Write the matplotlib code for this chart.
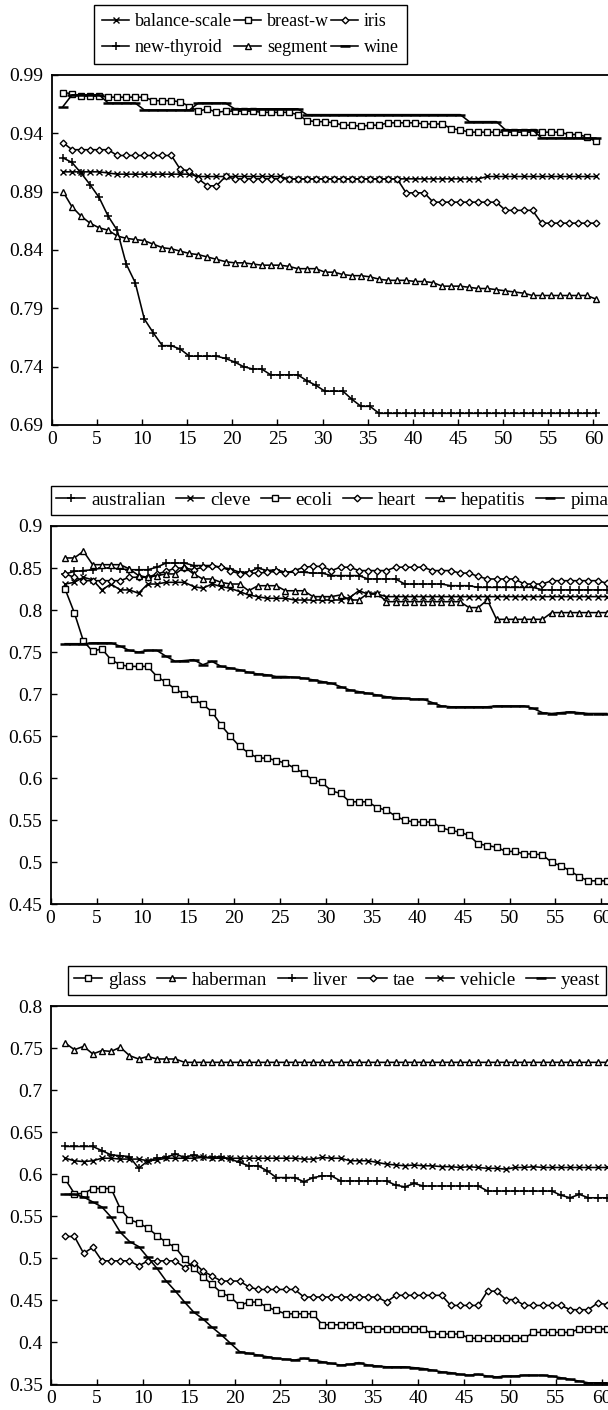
import numpy as np
import matplotlib.pyplot as plt

plt.rcParams['font.family'] = ['Liberation Serif', 'DejaVu Serif']

W, H = 608, 1410
steps = np.arange(1, 61)

# ---- panel 1 ----
balance_scale = [.907, .907, .907, .907, .907, .906, .905, .905, .905, .905,
                 .905, .905, .905, .905, .905, .903, .903, .903, .903, .903,
                 .903, .903, .903, .903, .903, .901, .901, .901, .901, .901,
                 .901, .901, .901, .901, .901, .901, .901, .901, .901, .901,
                 .901, .901, .901, .901, .901, .901, .901, .903, .903, .903,
                 .903, .903, .903, .903, .903, .903, .903, .903, .903, .903]
breast_w = [.975, .974, .972, .972, .972, .971, .971, .971, .971, .971,
            .968, .968, .968, .967, .963, .959, .961, .958, .959, .959,
            .959, .959, .958, .958, .958, .958, .956, .951, .950, .950,
            .949, .947, .947, .946, .947, .947, .949, .949, .949, .949,
            .948, .948, .948, .944, .943, .941, .941, .941, .941, .941,
            .941, .941, .941, .941, .941, .941, .939, .939, .937, .933]
iris = [.932, .926, .926, .926, .926, .926, .921, .921, .921, .921,
        .921, .921, .921, .909, .908, .901, .895, .895, .903, .901,
        .901, .901, .901, .901, .901, .901, .901, .901, .901, .901,
        .901, .901, .901, .901, .901, .901, .901, .901, .889, .889,
        .889, .881, .881, .881, .881, .881, .881, .881, .881, .874,
        .874, .874, .874, .863, .863, .863, .863, .863, .863, .863]
new_thyroid = [.919, .915, .906, .896, .885, .869, .857, .828, .812, .781,
               .769, .758, .758, .755, .749, .749, .749, .749, .747, .744,
               .740, .738, .738, .733, .733, .733, .733, .728, .724, .719,
               .719, .719, .712, .706, .706, .700, .700, .700, .700, .700,
               .700, .700, .700, .700, .700, .700, .700, .700, .700, .700,
               .700, .700, .700, .700, .700, .700, .700, .700, .700, .700]
segment = [.890, .877, .869, .863, .859, .857, .852, .850, .849, .848,
           .845, .842, .841, .839, .837, .836, .834, .832, .830, .829,
           .829, .828, .827, .827, .827, .826, .824, .824, .824, .821,
           .821, .819, .818, .818, .817, .815, .814, .814, .814, .813,
           .813, .812, .809, .809, .809, .808, .807, .807, .806, .805,
           .804, .803, .801, .801, .801, .801, .801, .801, .801, .798]
wine = [.963, .973, .973, .973, .973, .966, .966, .966, .966, .960,
        .960, .960, .960, .960, .960, .966, .966, .966, .966, .961,
        .961, .961, .961, .961, .961, .961, .961, .956, .956, .956,
        .956, .956, .956, .956, .956, .956, .956, .956, .956, .956,
        .956, .956, .956, .956, .956, .950, .950, .950, .950, .943,
        .943, .943, .943, .936, .936, .936, .936, .936, .936, .936]

# ---- panel 2 ----
australian = [.843, .846, .847, .848, .850, .850, .849, .848, .848, .848,
              .851, .856, .856, .856, .853, .853, .853, .851, .849, .845,
              .845, .850, .847, .848, .845, .845, .845, .844, .844, .841,
              .841, .841, .841, .837, .837, .837, .837, .831, .831, .831,
              .831, .831, .829, .829, .829, .827, .827, .827, .827, .827,
              .827, .827, .824, .824, .824, .824, .824, .824, .824, .824]
cleve = [.831, .833, .839, .836, .824, .831, .824, .824, .820, .831,
         .831, .833, .833, .833, .828, .826, .831, .828, .826, .822,
         .818, .816, .814, .814, .814, .812, .812, .812, .812, .812,
         .812, .815, .823, .819, .819, .816, .816, .816, .816, .816,
         .816, .816, .816, .816, .816, .816, .816, .816, .816, .816,
         .816, .816, .816, .816, .816, .816, .816, .816, .816, .816]
ecoli = [.825, .797, .763, .751, .754, .741, .735, .733, .733, .733,
         .721, .714, .706, .700, .694, .688, .679, .663, .650, .638,
         .630, .624, .624, .621, .618, .612, .606, .598, .595, .585,
         .582, .572, .572, .572, .565, .562, .555, .550, .548, .548,
         .548, .541, .538, .536, .532, .522, .520, .518, .513, .513,
         .510, .510, .509, .500, .496, .490, .483, .478, .478, .478]
heart = [.843, .839, .835, .835, .835, .835, .835, .839, .839, .839,
         .843, .846, .850, .850, .848, .851, .852, .851, .847, .843,
         .844, .844, .845, .846, .844, .847, .851, .852, .852, .847,
         .851, .851, .847, .847, .847, .847, .851, .851, .851, .851,
         .847, .847, .847, .844, .844, .840, .837, .837, .837, .837,
         .831, .831, .831, .835, .835, .835, .835, .835, .835, .832]
hepatitis = [.862, .862, .870, .854, .854, .854, .854, .849, .841, .839,
             .841, .843, .843, .851, .843, .837, .837, .833, .831, .831,
             .823, .829, .829, .829, .823, .823, .823, .816, .816, .816,
             .818, .812, .812, .820, .820, .810, .810, .810, .810, .810,
             .810, .810, .810, .810, .803, .803, .812, .789, .789, .789,
             .789, .789, .789, .797, .797, .797, .797, .797, .797, .797]
pima = [.760, .760, .760, .761, .761, .761, .757, .752, .750, .752,
        .752, .745, .739, .740, .741, .735, .739, .733, .731, .729,
        .726, .724, .723, .721, .721, .720, .719, .717, .715, .713,
        .709, .705, .703, .701, .699, .697, .696, .695, .694, .694,
        .690, .686, .685, .685, .685, .685, .685, .686, .686, .686,
        .686, .683, .678, .677, .678, .679, .678, .677, .677, .677]

# ---- panel 3 ----
glass = [.594, .577, .577, .583, .583, .583, .559, .546, .542, .536,
         .527, .519, .513, .499, .488, .478, .469, .459, .454, .444,
         .448, .448, .442, .438, .434, .434, .434, .434, .421, .421,
         .421, .421, .421, .416, .416, .416, .416, .416, .416, .416,
         .410, .410, .410, .410, .405, .405, .405, .405, .405, .405,
         .405, .412, .412, .412, .412, .412, .416, .416, .416, .416]
haberman = [.756, .748, .752, .743, .747, .746, .751, .741, .737, .740,
            .737, .737, .737, .733, .733, .733, .733, .733, .733, .733,
            .733, .733, .733, .733, .733, .733, .733, .733, .733, .733,
            .733, .733, .733, .733, .733, .733, .733, .733, .733, .733,
            .733, .733, .733, .733, .733, .733, .733, .733, .733, .733,
            .733, .733, .733, .733, .733, .733, .733, .733, .733, .733]
liver = [.633, .633, .633, .633, .628, .623, .622, .621, .607, .616,
         .619, .620, .624, .620, .623, .620, .620, .621, .618, .614,
         .610, .610, .604, .596, .596, .596, .591, .596, .598, .598,
         .592, .592, .592, .592, .592, .592, .587, .585, .589, .586,
         .586, .586, .586, .586, .586, .586, .580, .580, .580, .580,
         .580, .580, .580, .580, .575, .572, .576, .572, .572, .572]
tae = [.526, .526, .506, .513, .497, .497, .497, .497, .491, .497,
       .497, .497, .497, .489, .495, .485, .479, .473, .473, .473,
       .466, .463, .463, .463, .463, .463, .454, .454, .454, .454,
       .454, .454, .454, .454, .454, .448, .456, .456, .456, .456,
       .456, .456, .444, .444, .444, .444, .461, .461, .451, .451,
       .444, .444, .444, .444, .444, .439, .439, .439, .447, .445]
vehicle = [.619, .616, .615, .616, .619, .619, .618, .618, .618, .616,
           .617, .619, .619, .619, .619, .620, .619, .619, .619, .619,
           .619, .619, .619, .619, .619, .619, .618, .618, .620, .619,
           .619, .616, .616, .616, .614, .612, .611, .610, .611, .610,
           .610, .609, .609, .608, .609, .608, .607, .607, .606, .608,
           .608, .609, .608, .608, .608, .608, .608, .608, .608, .608]
yeast = [.576, .576, .573, .567, .561, .549, .531, .520, .514, .501,
         .488, .473, .461, .448, .436, .428, .418, .409, .399, .389,
         .387, .385, .383, .381, .380, .379, .381, .379, .377, .375,
         .373, .374, .376, .373, .372, .371, .371, .371, .370, .369,
         .367, .365, .364, .362, .361, .362, .360, .359, .360, .360,
         .361, .361, .361, .360, .358, .356, .354, .352, .352, .352]

# marker styles
X = dict(marker='x', ms=4.2, mew=1.0)
SQ = dict(marker='s', ms=4.2, mew=1.0, mfc='white')
DI = dict(marker='D', ms=3.4, mew=1.0, mfc='white')
PL = dict(marker='+', ms=6, mew=1.1)
TR = dict(marker='^', ms=4.4, mew=1.0, mfc='white')
DA = dict(marker='_', ms=7, mew=1.8)

panels = [
    dict(series=[('balance-scale', balance_scale, X), ('breast-w', breast_w, SQ),
                 ('iris', iris, DI), ('new-thyroid', new_thyroid, PL),
                 ('segment', segment, TR), ('wine', wine, DA)],
         rect=(51.7, 75, 620, 425), xscale=9.03, xoff=0.25,
         ylim=(0.69, 0.99), fmt='%.2f'),
    dict(series=[('australian', australian, PL), ('cleve', cleve, X),
                 ('ecoli', ecoli, SQ), ('heart', heart, DI),
                 ('hepatitis', hepatitis, TR), ('pima', pima, DA)],
         rect=(50.6, 526, 620, 904.4), xscale=9.18, xoff=0.58,
         ylim=(0.45, 0.9), fmt='%g'),
    dict(series=[('glass', glass, SQ), ('haberman', haberman, TR),
                 ('liver', liver, PL), ('tae', tae, DI),
                 ('vehicle', vehicle, X), ('yeast', yeast, DA)],
         rect=(51, 1006, 620, 1384.5), xscale=9.18, xoff=0.55,
         ylim=(0.35, 0.8), fmt='%g'),
]

fig = plt.figure(figsize=(W / 100, H / 100), dpi=100)


def box(l, t, r, b):
    return [l / W, 1 - b / H, (r - l) / W, (b - t) / H]


axes = []
for p in panels:
    l, t, r, b = p['rect']
    ax = fig.add_axes(box(l, t, r, b))
    for name, vals, st in p['series']:
        ax.plot(steps + p['xoff'], vals, color='black', lw=1.15, label=name,
                clip_on=False, **st)
    ax.set_xlim(0, (r - l) / p['xscale'])
    ax.set_ylim(*p['ylim'])
    ax.set_xticks(range(0, 61, 5))
    yt = np.arange(p['ylim'][0], p['ylim'][1] + 0.001, 0.05)
    ax.set_yticks(yt)
    ax.set_yticklabels([p['fmt'] % v for v in yt])
    ax.spines['right'].set_visible(False)
    for s in ax.spines.values():
        s.set_linewidth(1.3)
    ax.tick_params(direction='in', length=4, width=1.0, labelsize=14,
                   top=False, right=False)
    ax.tick_params(axis='y', pad=6)
    ax.tick_params(axis='x', pad=4)
    axes.append(ax)


def legend(ax, order, x0, y0, x1, y1, ncol, fs, **kw):
    h, lab = ax.get_legend_handles_labels()
    h = [h[i] for i in order]
    lab = [lab[i] for i in order]
    lg = fig.legend(h, lab, loc='upper left', ncol=ncol, mode='expand',
                    bbox_to_anchor=(x0 / W, 1 - y1 / H, (x1 - x0) / W, (y1 - y0) / H),
                    borderaxespad=0, fontsize=fs, fancybox=False, framealpha=1,
                    edgecolor='black', handlelength=1.5, handletextpad=0.3,
                    numpoints=1, **kw)
    lg.get_frame().set_linewidth(1.0)
    return lg


legend(axes[0], [0, 3, 1, 4, 2, 5], 94, 5, 407, 65, 3, 13,
       borderpad=0.45, labelspacing=0.5, columnspacing=0.6)
legend(axes[1], range(6), 50.7, 485.7, 614, 517.5, 6, 13.8,
       borderpad=0.3, columnspacing=0.5)
legend(axes[2], range(6), 67.8, 965.7, 605.8, 997.5, 6, 13.8,
       borderpad=0.3, columnspacing=0.5)

fig.savefig('out.png', dpi=100)
